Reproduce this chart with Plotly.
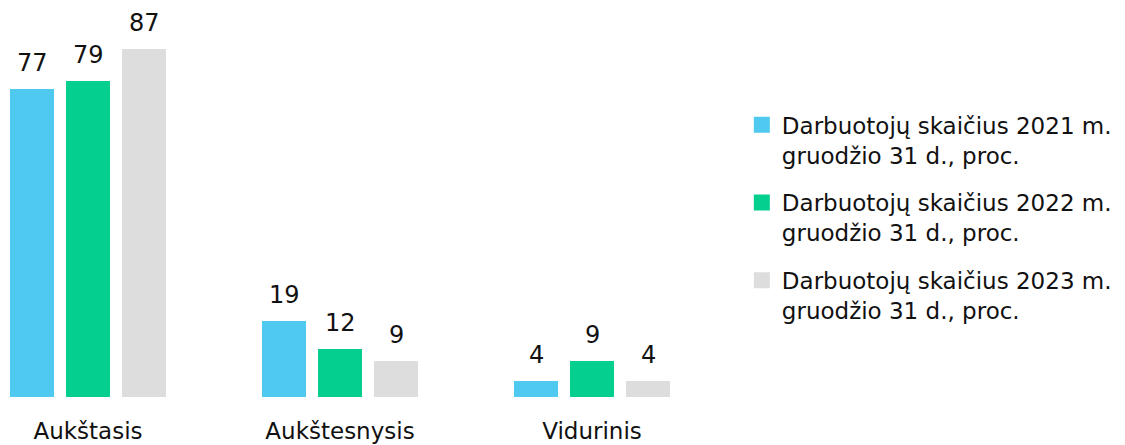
import plotly.graph_objects as go

# Education level categories and shares of employees (%)
categories = ["Aukštasis", "Aukštesnysis", "Vidurinis"]
series_names = [
    "Darbuotojų skaičius 2021 m.<br>gruodžio 31 d., proc.",
    "Darbuotojų skaičius 2022 m.<br>gruodžio 31 d., proc.",
    "Darbuotojų skaičius 2023 m.<br>gruodžio 31 d., proc.",
]
values_2021 = [77, 19, 4]
values_2022 = [79, 12, 9]
values_2023 = [87, 9, 4]

series_values = [values_2021, values_2022, values_2023]
colors = ["#50C9F1", "#05CF8F", "#DDDDDD"]

FONT = "Tahoma, Verdana, 'DejaVu Sans', sans-serif"
TEXT_COLOR = "#111111"

fig = go.Figure()

# Bars (legend drawn by separate square-marker entries below)
for name, vals, col in zip(series_names, series_values, colors):
    fig.add_trace(go.Bar(
        x=categories, y=vals, name=name,
        marker=dict(color=col, line=dict(width=0)),
        showlegend=False, hoverinfo="skip",
    ))

# Legend entries with larger square swatches
for i, (name, col) in enumerate(zip(series_names, colors)):
    fig.add_trace(go.Scatter(
        x=[None], y=[None], mode="markers", name=name,
        marker=dict(symbol="square", size=16, color=col),
        legendgroup=f"g{i}",
    ))

# Value labels above each bar
n_series = len(series_values)
slot = 1 / n_series * (1 - 1 / 3)  # bar slot width in category units
for j, vals in enumerate(series_values):
    for i, v in enumerate(vals):
        fig.add_annotation(
            x=i + (j - (n_series - 1) / 2) * slot, y=v,
            xref="x", yref="y",
            text=str(v), showarrow=False,
            yanchor="bottom", yshift=10,
            font=dict(family=FONT, size=24, color=TEXT_COLOR),
        )

plot_w = 720
fig.update_layout(
    width=1125, height=445,
    margin=dict(l=0, r=0, t=0, b=48),
    paper_bgcolor="white", plot_bgcolor="white",
    barmode="group", bargap=1 / 3, bargroupgap=0.214,
    font=dict(family=FONT, size=23, color=TEXT_COLOR),
    xaxis=dict(
        domain=[0, plot_w / 1125],
        range=[-88 / 252, -88 / 252 + plot_w / 252],
        showline=False, showgrid=False, zeroline=False,
        ticks="", tickfont=dict(family=FONT, size=23, color=TEXT_COLOR),
        ticklabelstandoff=18,
    ),
    yaxis=dict(
        range=[0, 99.25], visible=False,
        showgrid=False, zeroline=False,
    ),
    legend=dict(
        x=0.6594, y=0.74, xanchor="left", yanchor="top",
        font=dict(family=FONT, size=23, color=TEXT_COLOR),
        tracegroupgap=15, valign="top",
        bgcolor="rgba(0,0,0,0)",
    ),
    showlegend=True,
)

fig.write_html("out.html")
